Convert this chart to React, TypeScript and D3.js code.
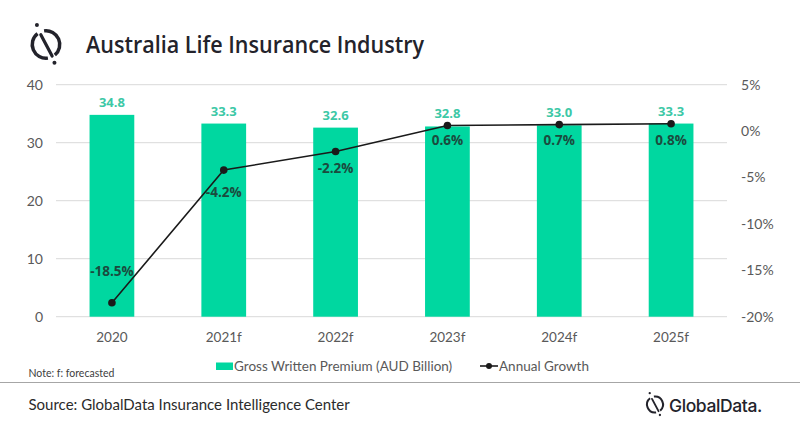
import React from "react";
import * as d3 from "d3";

const categories = ["2020", "2021f", "2022f", "2023f", "2024f", "2025f"];
const premium = [34.8, 33.3, 32.6, 32.8, 33.0, 33.3];
const growth = [-18.5, -4.2, -2.2, 0.6, 0.7, 0.8];
const leftTicks = [0, 10, 20, 30, 40];
const rightTicks = [-20, -15, -10, -5, 0, 5];
const growthLabelDy = [-27, 27, 21, 19, 20, 21];

const W = 800;
const H = 428;
const plot = { left: 56, right: 727, top: 84.7, bottom: 316.7 };

const GREEN = "#00D7A0";
const VALUE_LABEL = "#3CC8A6";
const GROWTH_LABEL = "#1B4B3E";
const AXIS_TEXT = "#595959";
const DARK = "#23232B";
const FONT = "Lato, 'Open Sans', sans-serif";

function Logo({ cx, cy, s }: { cx: number; cy: number; s: number }) {
  const arc = d3.arc<any>().innerRadius(12 * s).outerRadius(15.5 * s);
  const deg = (a: number) => (a * Math.PI) / 180;
  const a1 = arc({ startAngle: deg(-8), endAngle: deg(140) } as any) || "";
  const a2 = arc({ startAngle: deg(172), endAngle: deg(322) } as any) || "";
  const dir = (a: number, r: number) => [Math.sin(deg(a)) * r * s, -Math.cos(deg(a)) * r * s];
  const p1 = dir(-28, 11);
  const p2 = dir(152, 13);
  const d1 = dir(-25, 21.5);
  const d2 = dir(155, 20);
  return (
    <g transform={`translate(${cx},${cy})`}>
      <path d={a1} fill={DARK} />
      <path d={a2} fill={DARK} />
      <line x1={p1[0]} y1={p1[1]} x2={p2[0]} y2={p2[1]} stroke={DARK} strokeWidth={3.2 * s} strokeLinecap="round" />
      <circle cx={d1[0]} cy={d1[1]} r={2 * s} fill={DARK} />
      <circle cx={d2[0]} cy={d2[1]} r={2 * s} fill={DARK} />
    </g>
  );
}

export default function App() {
  const x = d3.scaleBand<string>().domain(categories).range([plot.left, plot.right]).paddingInner(0.6).paddingOuter(0.3);
  const y = d3.scaleLinear().domain([0, 40]).range([plot.bottom, plot.top]);
  const y2 = d3.scaleLinear().domain([-20, 5]).range([plot.bottom, plot.top]);
  const cxOf = (c: string) => (x(c) as number) + x.bandwidth() / 2;
  const linePath =
    d3
      .line<number>()
      .x((_, i) => cxOf(categories[i]))
      .y((d) => y2(d))(growth) || "";

  return (
    <svg width={W} height={H} style={{ position: "absolute", left: 0, top: 0, background: "#fff" }}>
      <rect width={W} height={H} fill="#fff" />
      <Logo cx={46} cy={44.5} s={1} />
      <text x={86} y={52.5} fontFamily="'Open Sans', sans-serif" fontWeight={600} fontSize={23} fill={DARK} textLength={338} lengthAdjust="spacingAndGlyphs">
        Australia Life Insurance Industry
      </text>

      {leftTicks.map((t) => (
        <g key={t}>
          <line x1={plot.left} x2={plot.right} y1={y(t)} y2={y(t)} stroke="#D9D9D9" strokeWidth={1} />
          <text x={43} y={y(t)} dy="0.35em" textAnchor="end" fontFamily={FONT} fontSize={14} fill={AXIS_TEXT}>
            {t}
          </text>
        </g>
      ))}
      {rightTicks.map((t) => (
        <text key={t} x={741} y={y2(t)} dy="0.35em" textAnchor="start" fontFamily={FONT} fontSize={14} fill={AXIS_TEXT}>
          {t}%
        </text>
      ))}

      {categories.map((c, i) => (
        <g key={c}>
          <rect x={x(c)} y={y(premium[i])} width={x.bandwidth()} height={plot.bottom - y(premium[i])} fill={GREEN} />
          <text x={cxOf(c)} y={y(premium[i]) - 8} textAnchor="middle" fontFamily="'Open Sans', sans-serif" fontWeight={700} fontSize={13} fill={VALUE_LABEL}>
            {premium[i].toFixed(1)}
          </text>
          <text x={cxOf(c)} y={342} textAnchor="middle" fontFamily={FONT} fontSize={13.5} fill={AXIS_TEXT}>
            {c}
          </text>
        </g>
      ))}

      <path d={linePath} fill="none" stroke="#1A1A1A" strokeWidth={1.6} />
      {growth.map((g, i) => (
        <g key={i}>
          <circle cx={cxOf(categories[i])} cy={y2(g)} r={3.8} fill="#1A1A1A" />
          <text x={cxOf(categories[i])} y={y2(g) + growthLabelDy[i]} textAnchor="middle" fontFamily="'Open Sans', sans-serif" fontWeight={700} fontSize={13.5} fill={GROWTH_LABEL}>
            {g.toFixed(1)}%
          </text>
        </g>
      ))}

      {/* legend */}
      <rect x={216} y={362.5} width={17} height={7.5} fill={GREEN} />
      <text x={234} y={366} dy="0.35em" fontFamily={FONT} fontSize={13.5} fill={AXIS_TEXT}>
        Gross Written Premium (AUD Billion)
      </text>
      <line x1={480} x2={498} y1={366} y2={366} stroke="#1A1A1A" strokeWidth={1.6} />
      <circle cx={489} cy={366} r={3} fill="#1A1A1A" />
      <text x={499} y={366} dy="0.35em" fontFamily={FONT} fontSize={13.5} fill={AXIS_TEXT}>
        Annual Growth
      </text>

      <text x={28.5} y={377} fontFamily={FONT} fontSize={10.5} fill="#404040">
        Note: f: forecasted
      </text>
      <line x1={0} x2={W} y1={382.5} y2={382.5} stroke="#A6A6A6" strokeWidth={1.2} />
      <text x={28.5} y={410} fontFamily={FONT} fontSize={15} fill="#2B2B2B">
        Source: GlobalData Insurance Intelligence Center
      </text>

      <Logo cx={655} cy={404.5} s={0.58} />
      <text x={669} y={411.5} fontFamily="Inter, sans-serif" fontWeight={500} fontSize={17.5} fill={DARK} letterSpacing={-0.4}>
        GlobalData.
      </text>
    </svg>
  );
}
